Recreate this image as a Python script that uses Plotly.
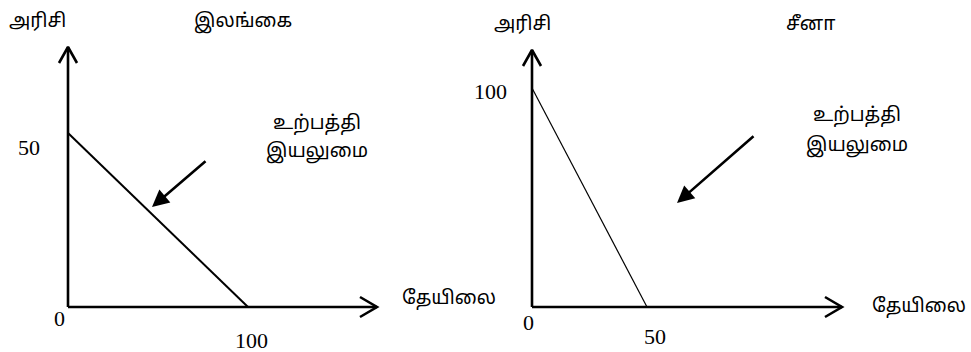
import plotly.graph_objects as go

W, H = 971, 352

# production possibility frontiers (tea on x, rice on y)
sl_tea = [0, 100]
sl_rice = [50, 0]
cn_tea = [0, 50]
cn_rice = [100, 0]

# labels
rice_label = "அரிசி"
tea_label = "தேயிலை"
country_labels = ["இலங்கை", "சீனா"]
ppf_label = ["உற்பத்தி", "இயலுமை"]

# panel geometry in pixels: origin, px per unit, axis ends, domain
panels = [
    dict(x0=68, y0=307, sx=1.8, sy=3.48, xend=377, yend=47, dom=(0, 466), lw=2),
    dict(x0=532, y0=307, sx=2.3, sy=2.19, xend=842, yend=50, dom=(466, 971), lw=1.2),
]

num_font = dict(family="Liberation Serif", size=22, color="black")
ta_font = dict(family="Noto Sans Tamil, Noto Serif Tamil, sans-serif", size=19, color="black")

fig = go.Figure()
annotations = []

series = [(sl_tea, sl_rice), (cn_tea, cn_rice)]

for i, p in enumerate(panels):
    xa = "x" if i == 0 else "x2"
    ya = "y" if i == 0 else "y2"
    lo, hi = p["dom"]
    xr = [(lo - p["x0"]) / p["sx"], (hi - p["x0"]) / p["sx"]]
    yr = [-(H - p["y0"]) / p["sy"], p["y0"] / p["sy"]]
    xmax = (p["xend"] - p["x0"]) / p["sx"]
    ymax = (p["y0"] - p["yend"]) / p["sy"]

    axis_kw = dict(visible=False, fixedrange=True)
    fig.update_layout(**{
        ("xaxis" if i == 0 else "xaxis2"): dict(domain=[lo / W, hi / W], range=xr,
                                                 anchor=ya, **axis_kw),
        ("yaxis" if i == 0 else "yaxis2"): dict(domain=[0, 1], range=yr,
                                                 anchor=xa, **axis_kw),
    })

    # axes with open arrowheads
    ax_x = [0, 0, None, 0, xmax, None,
            xmax - 17 / p["sx"], xmax, xmax - 17 / p["sx"], None,
            -9 / p["sx"], 0, 9 / p["sx"]]
    ax_y = [0, ymax, None, 0, 0, None,
            10 / p["sy"], 0, -10 / p["sy"], None,
            ymax - 16 / p["sy"], ymax, ymax - 16 / p["sy"]]
    fig.add_trace(go.Scatter(x=ax_x, y=ax_y, mode="lines", xaxis=xa, yaxis=ya,
                             line=dict(color="black", width=2.6), hoverinfo="skip"))

    tea, rice = series[i]
    fig.add_trace(go.Scatter(x=tea, y=rice, mode="lines", xaxis=xa, yaxis=ya,
                             line=dict(color="black", width=p["lw"]), hoverinfo="skip"))

    # intercept labels
    annotations += [
        dict(x=0, y=rice[0], xref=xa, yref=ya, text=str(rice[0]), showarrow=False,
             font=num_font, xshift=-39 if i == 0 else -42, yshift=-14 if i == 0 else -3),
        dict(x=tea[1], y=0, xref=xa, yref=ya, text=str(tea[1]), showarrow=False,
             font=num_font, xshift=3 if i == 0 else 8, yshift=-33 if i == 0 else -29),
        dict(x=0, y=0, xref=xa, yref=ya, text="0", showarrow=False,
             font=num_font, xshift=-9 if i == 0 else -4, yshift=-11 if i == 0 else -15),
    ]


def txt(px, py, text, font=ta_font):
    return dict(x=px / W, y=1 - py / H, xref="paper", yref="paper", text=text,
                showarrow=False, font=font, xanchor="center", yanchor="middle")


annotations += [
    txt(37, 22, rice_label),
    txt(243, 22, country_labels[0]),
    txt(317, 124, ppf_label[0]),
    txt(317, 152, ppf_label[1]),
    txt(449, 299, tea_label),
    txt(522, 25, rice_label),
    txt(810, 25, country_labels[1]),
    txt(857, 116, ppf_label[0]),
    txt(857, 146, ppf_label[1]),
    txt(919, 307, tea_label),
]

# pointer arrows to the frontier
for hx, hy, tx, ty in [(152, 207, 207, 160), (677, 203, 755, 135)]:
    annotations.append(dict(x=hx / W, y=1 - hy / H, xref="paper", yref="paper",
                            ax=tx - hx, ay=ty - hy, text="", showarrow=True,
                            arrowhead=2, arrowsize=1.3, arrowwidth=2.6,
                            arrowcolor="black"))

fig.update_layout(
    width=W,
    height=H,
    margin=dict(l=0, r=0, t=0, b=0),
    paper_bgcolor="white",
    plot_bgcolor="rgba(0,0,0,0)",
    showlegend=False,
    annotations=annotations,
)

# drop the default page margin so the figure sits at the window's corner
fig.write_html("out.html", config={"displayModeBar": False},
               post_script="document.body.style.margin='0';")
